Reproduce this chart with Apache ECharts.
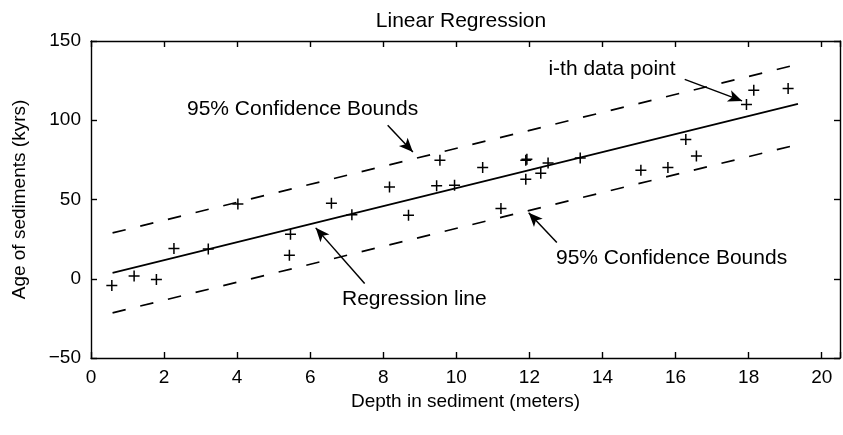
<!DOCTYPE html>
<html>
<head>
<meta charset="utf-8">
<script src="https://cdn.jsdelivr.net/npm/echarts@6/dist/echarts.min.js"></script>
<style>
  html, body { margin: 0; padding: 0; background: #fff; }
  #chart { width: 843px; height: 435px; }
</style>
</head>
<body>
<div id="chart"></div>
<script>
// Sediment samples: depth (m) and age (kyrs)
const depth = [0.57, 1.18, 1.79, 2.27, 3.21, 4.02, 5.43, 5.46, 6.58, 7.14,
               8.17, 8.69, 9.46, 9.55, 9.95, 10.72, 11.22, 11.90, 11.93, 11.90,
               12.31, 12.51, 13.39, 15.05, 15.79, 16.28, 16.57, 17.94, 18.14, 19.08];
const age   = [-4.2, 1.8, -0.5, 19.1, 18.7, 47.2, 14.9, 28.1, 47.7, 40.3,
               57.9, 40.1, 58.6, 74.8, 59.0, 70.2, 44.3, 74.8, 75.4, 62.8,
               66.6, 73.1, 76.2, 68.5, 70.2, 87.8, 77.5, 109.9, 118.9, 120.0];

// Fitted line and 95% bounds at the ends of the depth range
const fitDepth = [0.59, 19.35];
const fitAge   = [3.7, 110.3];
const upperAge = [28.9, 135.3];
const lowerAge = [-21.5, 84.7];

// Axis ticks
const xTicks = [0, 2, 4, 6, 8, 10, 12, 14, 16, 18, 20];
const yTicks = [-50, 0, 50, 100, 150];

// Annotations: text with its centre, and arrow from -> to (data units)
const noteText  = ['95% Confidence Bounds', 'i-th data point', 'Regression line', '95% Confidence Bounds'];
const noteX     = [5.79, 14.26, 8.85, 15.89];
const noteY     = [106.9, 132.0, -12.9, 13.2];
const arrowFrom = [[8.12, 96.8], [16.25, 125.8], [7.49, -3.0], [12.75, 22.9]];
const arrowTo   = [[8.81, 80.0], [17.82, 112.2], [6.15, 32.1], [11.98, 41.6]];

const FONT = 'Helvetica, "Liberation Sans", Arial, sans-serif';
const INK = '#000';
const plus = 'path://M0,5 L10,5 M5,0 L5,10';

const pairs = (xs, ys) => xs.map((x, i) => [x, ys[i]]);

const chart = echarts.init(document.getElementById('chart'), null, { renderer: 'canvas' });

const axisCommon = {
  axisLine: { show: true, onZero: false, lineStyle: { color: INK, width: 1.4 } },
  axisTick: { show: true, inside: true, length: 6, lineStyle: { color: INK, width: 1.4 } },
  splitLine: { show: false }
};

chart.setOption({
  animation: false,
  backgroundColor: '#fff',
  title: {
    text: 'Linear Regression',
    left: 456, textAlign: 'center', top: 6,
    textStyle: { fontFamily: FONT, fontSize: 21, fontWeight: 'normal', color: INK }
  },
  grid: { left: 91, right: 1, top: 41, bottom: 77, containLabel: false },
  xAxis: [
    Object.assign({}, axisCommon, {
      type: 'value', min: xTicks[0], max: 20.5, interval: 2, position: 'bottom',
      name: 'Depth in sediment (meters)', nameLocation: 'middle', nameGap: 33,
      nameTextStyle: { fontFamily: FONT, fontSize: 19, color: INK },
      axisLabel: {
        margin: 10, fontFamily: FONT, fontSize: 19, color: INK,
        formatter: v => (xTicks.indexOf(v) >= 0 ? String(v) : '')
      }
    }),
    Object.assign({}, axisCommon, {
      type: 'value', min: xTicks[0], max: 20.5, interval: 2, position: 'top',
      axisLabel: { show: false }
    })
  ],
  yAxis: [
    Object.assign({}, axisCommon, {
      type: 'value', min: yTicks[0], max: yTicks[yTicks.length - 1], interval: 50, position: 'left',
      name: 'Age of sediments (kyrs)', nameLocation: 'middle', nameGap: 62,
      nameTextStyle: { fontFamily: FONT, fontSize: 19, color: INK },
      axisLabel: {
        margin: 10, fontFamily: FONT, fontSize: 19, color: INK,
        formatter: v => (v < 0 ? '\u2212' + Math.abs(v) : String(v))
      }
    }),
    Object.assign({}, axisCommon, {
      type: 'value', min: yTicks[0], max: yTicks[yTicks.length - 1], interval: 50, position: 'right',
      axisLabel: { show: false }
    })
  ],
  series: [
    {
      name: 'upper', type: 'line', data: pairs(fitDepth, upperAge), showSymbol: false, silent: true,
      lineStyle: { color: INK, width: 1.7, type: [13.5, 15] }
    },
    {
      name: 'lower', type: 'line', data: pairs(fitDepth, lowerAge), showSymbol: false, silent: true,
      lineStyle: { color: INK, width: 1.7, type: [13.5, 15] }
    },
    {
      name: 'fit', type: 'line', data: pairs(fitDepth, fitAge), showSymbol: false, silent: true,
      lineStyle: { color: INK, width: 1.7 }
    },
    {
      name: 'samples', type: 'scatter', data: pairs(depth, age),
      symbol: plus, symbolSize: 11,
      itemStyle: { color: 'none', borderColor: INK, borderWidth: 1.5, opacity: 1 },
      markLine: {
        silent: true, symbol: ['none', 'arrow'], symbolSize: [9, 14],
        lineStyle: { color: INK, width: 1.5, type: 'solid' },
        itemStyle: { color: INK },
        label: { show: false },
        data: arrowFrom.map((f, i) => [{ coord: f }, { coord: arrowTo[i] }])
      }
    },
    {
      name: 'notes', type: 'scatter', silent: true,
      data: noteText.map((t, i) => ({ name: t, value: [noteX[i], noteY[i]] })),
      symbolSize: 1, itemStyle: { color: 'transparent', opacity: 1 },
      label: {
        show: true, position: 'inside', formatter: p => p.name,
        fontFamily: FONT, fontSize: 21, color: INK, opacity: 1
      }
    }
  ]
});
</script>
</body>
</html>
